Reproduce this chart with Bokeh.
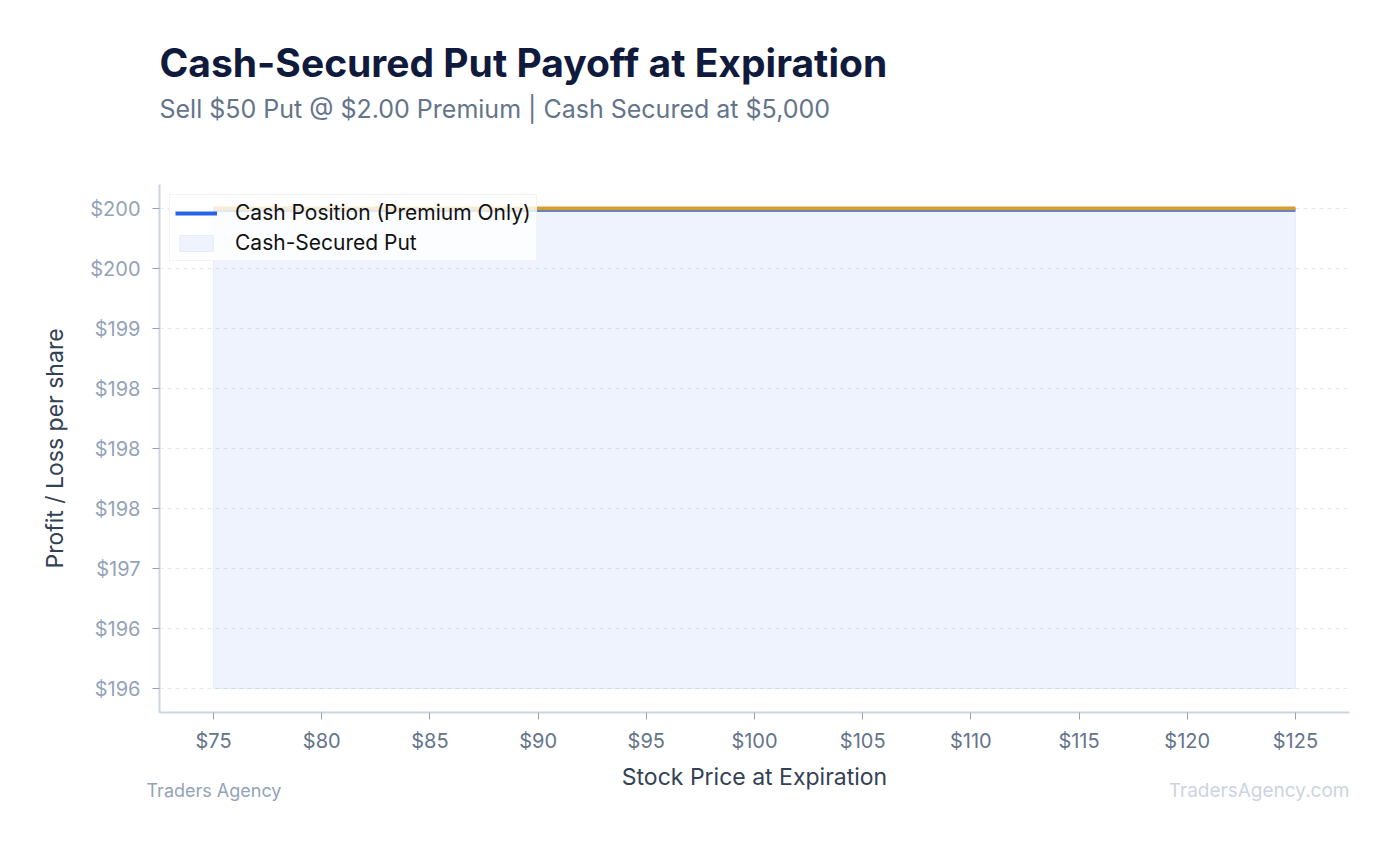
from bokeh.plotting import figure
from bokeh.layouts import column
from bokeh.embed import file_html
from bokeh.resources import INLINE
from bokeh.models import (Range1d, FixedTicker, CustomJSTickFormatter, NumeralTickFormatter,
                          Label, Legend, LegendItem)

# data
stock_price = [75, 80, 85, 90, 95, 100, 105, 110, 115, 120, 125]
cash_position = [199.99, 199.99, 199.99, 199.99, 199.99, 199.99, 199.99, 199.99, 199.99, 199.99, 199.99]
premium_line = [200.0, 200.0, 200.0, 200.0, 200.0, 200.0, 200.0, 200.0, 200.0, 200.0, 200.0]
fill_floor = [196.0, 196.0, 196.0, 196.0, 196.0, 196.0, 196.0, 196.0, 196.0, 196.0, 196.0]
x_ticks = [75, 80, 85, 90, 95, 100, 105, 110, 115, 120, 125]
y_ticks = [196.0, 196.5, 197.0, 197.5, 198.0, 198.5, 199.0, 199.5, 200.0]

FONT = "Inter"
W = 1390


def text_strip(height):
    # blank figure used only to hold text outside the plot frame
    f = figure(width=W, height=height, x_range=Range1d(0, W), y_range=Range1d(0, height),
               min_border=0, x_axis_location=None, y_axis_location=None,
               toolbar_location=None, output_backend="svg", frame_align=False)
    f.outline_line_color = None
    f.grid.visible = False
    return f


# header
head = text_strip(150)
head.add_layout(Label(x=159, y=88, text="Cash-Secured Put Payoff at Expiration", text_font=FONT,
                      text_font_size="39px", text_font_style="bold", text_color="#0f1a3c",
                      text_baseline="middle"))
head.add_layout(Label(x=159, y=42, text="Sell $50 Put @ $2.00 Premium | Cash Secured at $5,000",
                      text_font=FONT, text_font_size="25px", text_color="#64748b",
                      text_baseline="middle"))

# main chart
p = figure(width=W, height=610, output_backend="svg", toolbar_location=None,
           x_range=Range1d(72.5, 127.5), y_range=Range1d(195.8, 200.2),
           min_border_left=159, min_border_right=W - 1349, min_border_top=34, min_border_bottom=48)
p.outline_line_color = None

poly_x = stock_price + stock_price[::-1]
poly_y = cash_position + fill_floor[::-1]
area = p.patch(poly_x, poly_y, fill_color="#2563eb", fill_alpha=0.08,
               line_color="#2563eb", line_alpha=0.08, line_width=1)
cash = p.line(stock_price, cash_position, line_color="#2563eb", line_width=4)
p.line(stock_price, premium_line, line_color="#d69e2e", line_width=4)

p.xaxis.ticker = FixedTicker(ticks=x_ticks)
p.yaxis.ticker = FixedTicker(ticks=y_ticks)
p.xaxis.formatter = NumeralTickFormatter(format="$0")
p.yaxis.formatter = CustomJSTickFormatter(code="""
    const f = Math.floor(tick);
    let v = Math.round(tick);
    if (Math.abs(tick - f - 0.5) < 1e-9) { v = (f % 2 === 0) ? f : f + 1; }
    return "$" + v.toFixed(0);
""")
p.yaxis.axis_label = "Profit / Loss per share"
for ax in (p.xaxis, p.yaxis):
    ax.axis_line_color = "#cbd5e1"
    ax.axis_line_width = 2
    ax.major_tick_line_color = "#94a3b8"
    ax.major_tick_in = 0
    ax.major_tick_out = 7
    ax.minor_tick_line_color = None
    ax.major_label_text_font = FONT
    ax.major_label_text_font_size = "20px"
    ax.axis_label_text_font = FONT
    ax.axis_label_text_font_size = "23px"
    ax.axis_label_text_font_style = "normal"
    ax.axis_label_text_color = "#334155"
p.xaxis.major_label_text_color = "#64748b"
p.yaxis.major_label_text_color = "#94a3b8"
p.xaxis.major_label_standoff = 9
p.yaxis.major_label_standoff = 12
p.yaxis.axis_label_standoff = 18

p.xgrid.grid_line_color = None
p.ygrid.grid_line_color = "#e2e8f0"
p.ygrid.grid_line_dash = "4 4"
p.ygrid.grid_line_width = 1

legend = Legend(items=[LegendItem(label="Cash Position (Premium Only)", renderers=[cash]),
                       LegendItem(label="Cash-Secured Put", renderers=[area])],
                location="top_left", margin=10, padding=5, spacing=5,
                glyph_width=42, glyph_height=20, label_standoff=18,
                label_text_font=FONT, label_text_font_size="21px", label_text_color="#111111",
                background_fill_color="white", background_fill_alpha=0.8,
                border_line_color="#e2e8f0", border_line_width=1)
p.add_layout(legend)

# x axis title and footer
foot = text_strip(50)
foot.add_layout(Label(x=(159 + 1349) / 2, y=34, text="Stock Price at Expiration", text_font=FONT,
                      text_font_size="23px", text_color="#334155", text_align="center",
                      text_baseline="middle"))
foot.add_layout(Label(x=146, y=20, text="Traders Agency", text_font=FONT, text_font_size="18px",
                      text_color="#94a3b8", text_baseline="middle"))
foot.add_layout(Label(x=1349, y=20, text="TradersAgency.com", text_font=FONT,
                      text_font_size="19px", text_color="#cbd5e1", text_align="right",
                      text_baseline="middle"))

layout = column(head, p, foot, spacing=0)
open("out.html", "w").write(file_html(layout, INLINE))
